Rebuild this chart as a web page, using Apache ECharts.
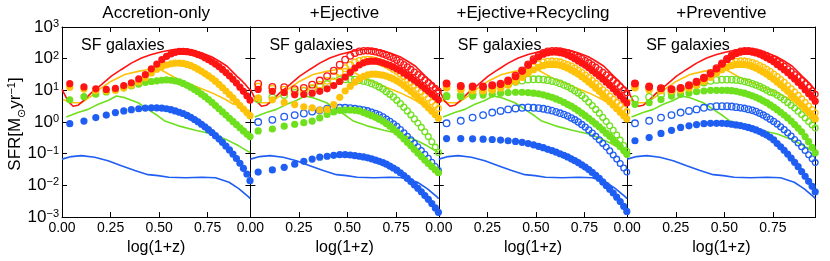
<!DOCTYPE html>
<html><head><meta charset="utf-8">
<script src="https://cdn.jsdelivr.net/npm/echarts@6/dist/echarts.min.js"></script>
<style>html,body{margin:0;padding:0;background:#fff}#c{width:830px;height:261px}</style>
</head><body><div id="c"></div>
<script>
// ---------------- DATA (log10 SFR values) ----------------
const panelTitles = ['Accretion-only', '+Ejective', '+Ejective+Recycling', '+Preventive'];
const xTickLabels = ['0.00', '0.25', '0.50', '0.75'];
const yTickExponents = [-3, -2, -1, 0, 1, 2, 3];

// snapshot positions, log(1+z)
const snapX = [0.040,0.113,0.174,0.228,0.275,0.318,0.357,0.395,0.429,0.460,0.488,0.514,0.538,0.561,0.583,0.604,0.624,0.644,0.663,0.682,0.700,0.718,0.736,0.754,0.772,0.790,0.808,0.826,0.844,0.862,0.880,0.898,0.916,0.934,0.952,0.968];

// observational curves (same in all panels)
const obsRedX = [0.0,0.031,0.057,0.082,0.108,0.151,0.203,0.254,0.306,0.357,0.409,0.460,0.515,0.567,0.620,0.670,0.720,0.770,0.810,0.850,0.876,0.900,0.928,0.945,0.969];
const obsRedY = [1.03,0.66,0.50,0.53,0.66,0.92,1.18,1.45,1.66,1.86,2.02,2.13,2.22,2.28,2.31,2.27,2.18,2.06,1.92,1.76,1.60,1.45,1.29,1.18,1.00];
const obsOrangeX = [0.005,0.048,0.100,0.151,0.203,0.254,0.323,0.392,0.443,0.495,0.530,0.600,0.687,0.773,0.842,0.885];
const obsOrangeY = [0.71,0.61,0.61,0.82,1.08,1.29,1.50,1.60,1.66,1.69,1.58,1.34,1.13,0.92,0.71,0.55];
const obsGreenX = [0.022,0.082,0.134,0.186,0.237,0.280,0.323,0.392,0.443,0.495,0.530,0.600,0.687,0.773,0.842,0.910,0.962,0.969];
const obsGreenY = [0.16,0.30,0.40,0.56,0.68,0.82,0.77,0.61,0.40,0.19,0.03,-0.12,-0.26,-0.38,-0.54,-0.75,-0.94,-0.96];
const obsBlueX = [0.0,0.048,0.100,0.168,0.237,0.306,0.375,0.443,0.495,0.550,0.636,0.720,0.790,0.860,0.910,0.962,0.969];
const obsBlueY = [-1.17,-1.09,-1.06,-1.11,-1.22,-1.38,-1.53,-1.66,-1.69,-1.74,-1.76,-1.74,-1.76,-1.90,-2.10,-2.37,-2.42];

// Panel 1: Accretion-only (filled)
const accRedF = [1.21,1.11,1.05,1.03,1.06,1.15,1.24,1.36,1.50,1.68,1.83,1.97,2.07,2.15,2.20,2.23,2.23,2.22,2.20,2.17,2.13,2.09,2.03,1.97,1.90,1.83,1.75,1.66,1.56,1.46,1.35,1.23,1.10,0.97,0.83,0.69];
const accOrangeF = [1.10,1.04,0.99,0.98,1.00,1.08,1.16,1.27,1.40,1.55,1.67,1.75,1.80,1.84,1.86,1.86,1.85,1.82,1.78,1.73,1.67,1.60,1.53,1.46,1.38,1.29,1.19,1.09,0.98,0.87,0.76,0.64,0.52,0.41,0.30,0.20];
const accGreenF = [0.70,0.80,0.88,0.95,1.02,1.08,1.14,1.20,1.25,1.28,1.30,1.32,1.33,1.32,1.30,1.27,1.22,1.16,1.10,1.03,0.96,0.88,0.80,0.71,0.62,0.52,0.42,0.32,0.22,0.12,0.02,-0.08,-0.18,-0.28,-0.38,-0.46];
const accBlueF = [-0.05,0.03,0.14,0.22,0.30,0.35,0.39,0.42,0.44,0.45,0.45,0.44,0.42,0.39,0.35,0.31,0.27,0.21,0.15,0.08,0.01,-0.07,-0.15,-0.24,-0.33,-0.43,-0.53,-0.64,-0.76,-0.88,-1.01,-1.15,-1.30,-1.46,-1.64,-1.85];

// Panel 2: +Ejective
const ejRedO = [1.21,1.11,1.10,1.04,1.08,1.18,1.31,1.45,1.62,1.81,1.97,2.09,2.18,2.23,2.25,2.25,2.24,2.22,2.19,2.15,2.11,2.06,2.01,1.95,1.88,1.81,1.74,1.66,1.58,1.50,1.42,1.33,1.25,1.16,1.07,0.98];
const ejRedF = [1.03,0.97,0.93,0.86,0.87,0.91,0.97,1.05,1.15,1.28,1.42,1.57,1.70,1.80,1.87,1.91,1.92,1.92,1.90,1.87,1.83,1.79,1.74,1.68,1.62,1.55,1.48,1.40,1.32,1.24,1.15,1.06,0.97,0.88,0.79,0.70];
const ejOrangeO = [1.12,1.05,1.02,0.98,1.00,1.08,1.18,1.30,1.45,1.58,1.70,1.80,1.88,1.93,1.96,1.97,1.96,1.94,1.90,1.85,1.80,1.74,1.67,1.60,1.52,1.44,1.35,1.26,1.16,1.06,0.96,0.86,0.75,0.64,0.53,0.43];
const ejOrangeF = [0.76,0.70,0.62,0.55,0.48,0.45,0.38,0.40,0.55,0.78,0.98,1.13,1.26,1.36,1.44,1.49,1.51,1.51,1.50,1.48,1.45,1.41,1.36,1.30,1.23,1.15,1.06,0.97,0.87,0.77,0.67,0.56,0.45,0.34,0.23,0.12];
const ejGreenO = [0.72,0.78,0.85,0.92,0.98,1.05,1.12,1.20,1.28,1.33,1.35,1.35,1.34,1.32,1.29,1.26,1.22,1.17,1.11,1.04,0.96,0.88,0.79,0.69,0.58,0.47,0.35,0.23,0.10,-0.03,-0.17,-0.31,-0.46,-0.62,-0.79,-0.96];
const ejGreenF = [-0.28,-0.22,-0.13,-0.07,-0.02,0.03,0.13,0.24,0.32,0.37,0.38,0.38,0.37,0.35,0.30,0.25,0.20,0.15,0.09,0.03,-0.05,-0.13,-0.22,-0.32,-0.42,-0.53,-0.64,-0.75,-0.87,-0.98,-1.09,-1.20,-1.31,-1.41,-1.51,-1.60];
const ejBlueO = [0.00,0.07,0.17,0.22,0.27,0.33,0.37,0.42,0.44,0.45,0.45,0.44,0.42,0.40,0.38,0.35,0.31,0.27,0.22,0.16,0.09,0.02,-0.06,-0.14,-0.24,-0.34,-0.45,-0.56,-0.67,-0.78,-0.90,-1.02,-1.14,-1.27,-1.40,-1.53];
const ejBlueF = [-1.58,-1.51,-1.43,-1.33,-1.24,-1.17,-1.11,-1.08,-1.05,-1.03,-1.03,-1.04,-1.06,-1.08,-1.10,-1.13,-1.16,-1.20,-1.24,-1.28,-1.33,-1.39,-1.45,-1.52,-1.60,-1.69,-1.78,-1.88,-1.98,-2.09,-2.20,-2.32,-2.44,-2.57,-2.71,-2.85];

// Panel 3: +Ejective+Recycling
const recRedO = [1.22,1.14,1.12,1.12,1.16,1.21,1.31,1.46,1.63,1.82,1.98,2.10,2.18,2.23,2.25,2.25,2.24,2.21,2.18,2.14,2.10,2.05,2.00,1.94,1.87,1.80,1.73,1.65,1.57,1.49,1.40,1.31,1.22,1.12,1.02,0.92];
const recRedF = [1.21,1.13,1.11,1.11,1.15,1.19,1.29,1.43,1.60,1.79,1.94,2.06,2.14,2.19,2.21,2.21,2.19,2.16,2.12,2.06,2.00,1.93,1.86,1.79,1.71,1.63,1.54,1.45,1.36,1.26,1.16,1.05,0.94,0.83,0.71,0.60];
const recOrangeO = [1.10,1.04,1.01,1.00,1.03,1.10,1.20,1.33,1.47,1.61,1.73,1.82,1.88,1.91,1.92,1.91,1.89,1.85,1.81,1.76,1.70,1.63,1.56,1.48,1.40,1.31,1.22,1.12,1.02,0.92,0.82,0.72,0.62,0.52,0.42,0.33];
const recOrangeF = [1.08,1.02,0.99,0.98,1.01,1.07,1.16,1.28,1.41,1.54,1.65,1.73,1.78,1.81,1.82,1.81,1.79,1.75,1.70,1.64,1.58,1.51,1.43,1.35,1.26,1.17,1.07,0.97,0.86,0.75,0.64,0.53,0.42,0.31,0.20,0.10];
const recGreenO = [0.82,0.84,0.88,0.95,1.03,1.12,1.20,1.27,1.31,1.34,1.35,1.35,1.34,1.32,1.29,1.26,1.22,1.17,1.12,1.06,0.99,0.92,0.84,0.74,0.63,0.52,0.40,0.28,0.15,0.02,-0.12,-0.26,-0.41,-0.57,-0.74,-0.92];
const recGreenF = [0.80,0.80,0.82,0.85,0.88,0.91,0.93,0.94,0.94,0.93,0.91,0.89,0.86,0.82,0.78,0.73,0.68,0.62,0.56,0.50,0.43,0.36,0.28,0.20,0.12,0.03,-0.06,-0.15,-0.25,-0.35,-0.45,-0.56,-0.67,-0.78,-0.90,-1.02];
const recBlueO = [-0.04,0.04,0.14,0.22,0.30,0.35,0.40,0.43,0.45,0.46,0.45,0.44,0.42,0.39,0.36,0.32,0.28,0.24,0.19,0.13,0.07,0.00,-0.08,-0.16,-0.25,-0.35,-0.45,-0.56,-0.67,-0.79,-0.91,-1.04,-1.17,-1.31,-1.45,-1.58];
const recBlueF = [-0.52,-0.52,-0.53,-0.54,-0.55,-0.57,-0.59,-0.61,-0.64,-0.68,-0.72,-0.77,-0.81,-0.86,-0.90,-0.95,-1.00,-1.05,-1.10,-1.16,-1.22,-1.28,-1.35,-1.42,-1.50,-1.59,-1.68,-1.78,-1.89,-2.00,-2.12,-2.24,-2.37,-2.51,-2.66,-2.82];

// Panel 4: +Preventive
const prvRedO = [1.22,1.12,1.07,1.04,1.08,1.16,1.27,1.40,1.54,1.70,1.85,1.99,2.10,2.18,2.23,2.25,2.25,2.23,2.21,2.18,2.14,2.09,2.04,1.98,1.91,1.84,1.76,1.68,1.59,1.50,1.41,1.31,1.21,1.10,0.99,0.88];
const prvRedF = [1.21,1.11,1.06,1.03,1.07,1.15,1.26,1.38,1.52,1.68,1.83,1.97,2.08,2.16,2.21,2.23,2.23,2.21,2.18,2.14,2.09,2.03,1.97,1.90,1.82,1.74,1.65,1.56,1.46,1.36,1.25,1.14,1.02,0.90,0.78,0.66];
const prvOrangeO = [1.11,1.05,1.01,1.00,1.03,1.10,1.19,1.31,1.45,1.59,1.72,1.82,1.88,1.91,1.92,1.92,1.90,1.87,1.83,1.78,1.72,1.66,1.59,1.51,1.43,1.34,1.25,1.15,1.05,0.95,0.84,0.73,0.62,0.51,0.40,0.29];
const prvOrangeF = [1.08,1.02,0.99,0.98,1.01,1.07,1.16,1.28,1.41,1.54,1.65,1.73,1.78,1.81,1.82,1.81,1.79,1.75,1.70,1.64,1.58,1.51,1.43,1.35,1.26,1.17,1.07,0.97,0.86,0.75,0.64,0.53,0.42,0.31,0.20,0.10];
const prvGreenO = [0.72,0.79,0.86,0.94,1.02,1.10,1.18,1.25,1.30,1.33,1.34,1.34,1.34,1.33,1.31,1.28,1.25,1.21,1.17,1.12,1.07,1.01,0.95,0.92,0.85,0.78,0.70,0.62,0.53,0.44,0.34,0.24,0.13,0.02,-0.09,-0.19];
const prvGreenF = [0.56,0.61,0.71,0.82,0.87,0.92,0.96,0.98,1.00,1.00,1.00,1.00,0.99,0.97,0.94,0.91,0.87,0.83,0.78,0.73,0.67,0.61,0.54,0.47,0.39,0.31,0.22,0.13,0.03,-0.08,-0.19,-0.31,-0.46,-0.62,-0.80,-0.97];
const prvBlueO = [-0.04,0.04,0.14,0.22,0.30,0.35,0.40,0.45,0.48,0.50,0.50,0.50,0.49,0.47,0.45,0.43,0.40,0.37,0.33,0.28,0.22,0.16,0.09,0.02,-0.06,-0.15,-0.24,-0.34,-0.44,-0.55,-0.66,-0.78,-0.90,-1.03,-1.16,-1.28];
const prvBlueF = [-0.59,-0.49,-0.36,-0.26,-0.17,-0.12,-0.08,-0.05,-0.04,-0.04,-0.04,-0.05,-0.07,-0.09,-0.11,-0.14,-0.17,-0.21,-0.25,-0.30,-0.35,-0.41,-0.48,-0.56,-0.68,-0.78,-0.89,-1.01,-1.14,-1.27,-1.41,-1.56,-1.71,-1.87,-2.03,-2.20];

// ---------------- CHART ----------------
const FONT = '"Liberation Sans", Arial, Helvetica, sans-serif';
const COL = { red: '#ff1414', orange: '#ffc20a', green: '#6fe01e', blue: '#1f5ef2' };

const panels = [
  { filled: { blue: accBlueF, green: accGreenF, orange: accOrangeF, red: accRedF }, open: null },
  { filled: { blue: ejBlueF, green: ejGreenF, orange: ejOrangeF, red: ejRedF },
    open: { blue: ejBlueO, green: ejGreenO, orange: ejOrangeO, red: ejRedO } },
  { filled: { blue: recBlueF, green: recGreenF, orange: recOrangeF, red: recRedF },
    open: { blue: recBlueO, green: recGreenO, orange: recOrangeO, red: recRedO } },
  { filled: { blue: prvBlueF, green: prvGreenF, orange: prvOrangeF, red: prvRedF },
    open: { blue: prvBlueO, green: prvGreenO, orange: prvOrangeO, red: prvRedO } }
];
const obs = [
  ['blue', obsBlueX, obsBlueY], ['green', obsGreenX, obsGreenY],
  ['orange', obsOrangeX, obsOrangeY], ['red', obsRedX, obsRedY]
];

const GL = 62, GW = 188.4, GT = 27, GH = 191;
const toPts = (xs, logs) => xs.map((x, i) => [x, Math.pow(10, logs[i])]);
const fsize = () => 7.2;
const osize = v => v[0] < 0.5 ? 6.6 : 6.6 - (v[0] - 0.5) * 2;

const grids = [], xAxes = [], yAxes = [], series = [], graphics = [];
const supExp = e => (e < 0 ? '\u2212' + Math.abs(e) : '' + e);

panels.forEach((p, i) => {
  const left = GL + i * GW;
  grids.push({ left: left, top: GT, width: GW, height: GH });
  const baseX = {
    gridIndex: i, type: 'value', min: 0, max: 0.97, interval: 0.25,
    axisLine: { show: true, onZero: false, lineStyle: { color: '#000', width: 1 } },
    axisTick: { show: true, inside: true, length: 5, lineStyle: { color: '#000', width: 1 } },
    splitLine: { show: false }
  };
  xAxes.push(Object.assign({}, baseX, {
    position: 'bottom',
    axisLabel: { show: true, fontSize: 14, color: '#000', fontFamily: FONT, margin: 4,
      showMaxLabel: false, formatter: v => xTickLabels[Math.round(v / 0.25)] || v.toFixed(2) },
    name: 'log(1+z)', nameLocation: 'middle', nameGap: 22,
    nameTextStyle: { fontSize: 16, color: '#000', fontFamily: FONT, verticalAlign: 'top' }
  }));
  xAxes.push(Object.assign({}, baseX, { position: 'top', axisLabel: { show: false } }));
  const baseY = {
    gridIndex: i, type: 'log', logBase: 10, min: 0.001, max: 1000,
    axisLine: { show: true, onZero: false, lineStyle: { color: '#000', width: 1 } },
    axisTick: { show: true, inside: true, length: 5, lineStyle: { color: '#000', width: 1 } },
    splitLine: { show: false }, minorTick: { show: false }
  };
  yAxes.push(Object.assign({}, baseY, {
    position: 'left',
    axisLabel: {
      show: i === 0, margin: 3, color: '#000', fontFamily: FONT,
      formatter: v => {
        const e = Math.round(Math.log10(v));
        if (yTickExponents.indexOf(e) < 0) return '';
        return '{b|10}{s|' + supExp(e) + '}';
      },
      rich: {
        b: { fontSize: 17, lineHeight: 17, fontFamily: FONT, color: '#000', verticalAlign: 'bottom' },
        s: { fontSize: 11, lineHeight: 17, fontFamily: FONT, color: '#000', verticalAlign: 'top', padding: [0, 0, 7, 0] }
      }
    }
  }));
  yAxes.push(Object.assign({}, baseY, { position: 'right', axisLabel: { show: false } }));

  const xi = i * 2, yi = i * 2;
  obs.forEach(([c, xs, ys]) => {
    series.push({
      type: 'line', xAxisIndex: xi, yAxisIndex: yi, data: toPts(xs, ys),
      showSymbol: false, symbol: 'none', silent: true, animation: false, z: 2,
      lineStyle: { color: COL[c], width: 1.6 }
    });
  });
  ['blue', 'green', 'orange', 'red'].forEach(c => {
    series.push({
      type: 'scatter', xAxisIndex: xi, yAxisIndex: yi, data: toPts(snapX, p.filled[c]),
      symbol: 'circle', symbolSize: fsize, animation: false, silent: true, z: 3,
      itemStyle: { color: COL[c], opacity: 1 }
    });
    if (p.open) {
      series.push({
        type: 'scatter', xAxisIndex: xi, yAxisIndex: yi, data: toPts(snapX, p.open[c]),
        symbol: 'circle', symbolSize: osize, animation: false, silent: true, z: 3,
        itemStyle: { color: 'rgba(0,0,0,0)', borderColor: COL[c], borderWidth: 1.3, opacity: 1 }
      });
    }
  });

  graphics.push({
    type: 'text', x: left + GW / 2, y: 13.5, z: 100,
    style: { text: panelTitles[i], fontSize: 17, fontFamily: FONT, fill: '#000', align: 'center', verticalAlign: 'middle' }
  });
  graphics.push({
    type: 'text', x: left + 19, y: 46, z: 100,
    style: { text: 'SF galaxies', fontSize: 16, fontFamily: FONT, fill: '#000', align: 'left', verticalAlign: 'middle' }
  });
});

graphics.push({
  type: 'text', x: 15, y: 124, rotation: Math.PI / 2, z: 100,
  style: {
    text: '{m|SFR[M}{sub|\u2299}{m|yr}{sup|\u22121}{m|]}',
    align: 'center', verticalAlign: 'middle', fill: '#000', fontFamily: FONT, fontSize: 17,
    rich: {
      m: { fontSize: 17, lineHeight: 17, fontFamily: FONT, fill: '#000', verticalAlign: 'middle' },
      sub: { fontSize: 11, lineHeight: 11, fontFamily: FONT, fill: '#000', verticalAlign: 'top', padding: [10, 0, 0, 0] },
      sup: { fontSize: 11, lineHeight: 11, fontFamily: FONT, fill: '#000', verticalAlign: 'top', padding: [0, 0, 10, 0] }
    }
  }
});

const chart = echarts.init(document.getElementById('c'), null, { renderer: 'canvas' });
chart.setOption({
  animation: false,
  backgroundColor: '#fff',
  grid: grids, xAxis: xAxes, yAxis: yAxes, series: series, graphic: graphics
});
</script></body></html>
